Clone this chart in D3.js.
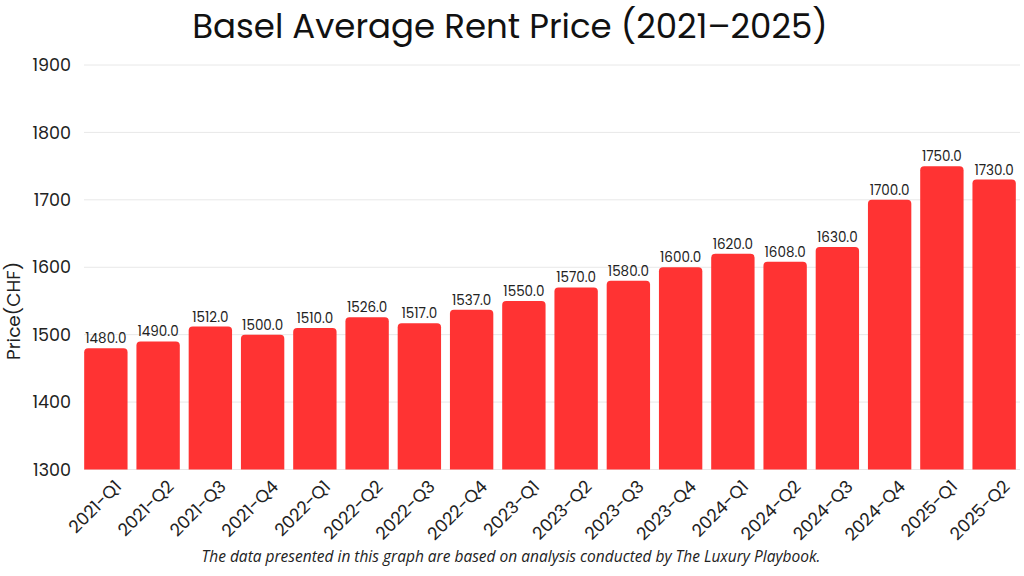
<!DOCTYPE html>
<html><head><meta charset="utf-8">
<script src="https://cdn.jsdelivr.net/npm/d3@7"></script>
<style>
body{margin:0;background:#fff;}
svg{display:block;}
</style></head>
<body><svg id="c" width="1024" height="576"></svg>
<script>
const categories = ["2021-Q1","2021-Q2","2021-Q3","2021-Q4","2022-Q1","2022-Q2","2022-Q3","2022-Q4","2023-Q1","2023-Q2","2023-Q3","2023-Q4","2024-Q1","2024-Q2","2024-Q3","2024-Q4","2025-Q1","2025-Q2"];
const prices = [1480,1490,1512,1500,1510,1526,1517,1537,1550,1570,1580,1600,1620,1608,1630,1700,1750,1730];
const yTicks = [1300,1400,1500,1600,1700,1800,1900];
const titleText = "Basel Average Rent Price (2021–2025)";
const yLabel = "Price(CHF)";
const footer = "The data presented in this graph are based on analysis conducted by The Luxury Playbook.";

const font = "Poppins, Inter, 'Noto Sans', sans-serif";
const svg = d3.select("#c");
const x = d3.scaleBand().domain(categories).range([80, 1020]).paddingInner(0.17).paddingOuter(0.08);
const y = d3.scaleLinear().domain([1300, 1900]).range([469.5, 65]);

// grid
svg.append("g").selectAll("line").data(yTicks).join("line")
  .attr("x1", 84).attr("x2", 1020)
  .attr("y1", d => y(d)).attr("y2", d => y(d))
  .attr("stroke", "#e8e8e8").attr("stroke-width", 1);

// y axis
const ya = svg.append("g").attr("transform", "translate(78,0)")
  .call(d3.axisLeft(y).tickValues(yTicks).tickSize(0).tickPadding(7).tickFormat(d3.format("d")));
ya.select(".domain").remove();
ya.selectAll("text").attr("font-family", font).attr("font-size", 17.5).attr("fill", "#222");

// bars with rounded top
const r = 4;
svg.append("g").selectAll("path").data(prices).join("path")
  .attr("fill", "#FF3333")
  .attr("d", (d, i) => {
    const x0 = x(categories[i]), w = x.bandwidth(), y0 = y(d), y1 = y(1300);
    return `M${x0},${y1}V${y0 + r}Q${x0},${y0} ${x0 + r},${y0}H${x0 + w - r}Q${x0 + w},${y0} ${x0 + w},${y0 + r}V${y1}Z`;
  });

// bar labels
svg.append("g").selectAll("text").data(prices).join("text")
  .attr("x", (d, i) => x(categories[i]) + x.bandwidth() / 2)
  .attr("y", d => y(d) - 5)
  .attr("text-anchor", "middle")
  .attr("font-family", font).attr("font-size", 13.5).attr("fill", "#222")
  .text(d => d3.format(".1f")(d));

// x labels
svg.append("g").selectAll("text").data(categories).join("text")
  .attr("transform", d => `translate(${x(d) + x.bandwidth() / 2 + 8},${479}) rotate(-45)`)
  .attr("text-anchor", "end")
  .attr("dy", "0.7em")
  .attr("font-family", font).attr("font-size", 17.5).attr("fill", "#222")
  .text(d => d);

// title
svg.append("text").attr("x", 510).attr("y", 38).attr("text-anchor", "middle")
  .attr("font-family", font).attr("font-size", 34).attr("fill", "#111")
  .text(titleText);

// y label
svg.append("text").attr("transform", "translate(20,311) rotate(-90)")
  .attr("text-anchor", "middle")
  .attr("font-family", font).attr("font-size", 18.5).attr("fill", "#222")
  .text(yLabel);

// footer
svg.append("text").attr("x", 511).attr("y", 562).attr("text-anchor", "middle")
  .attr("font-family", "'Open Sans', 'Noto Sans', sans-serif").attr("font-style", "italic")
  .attr("font-size", 15.5).attr("fill", "#222")
  .text(footer);
</script></body></html>
